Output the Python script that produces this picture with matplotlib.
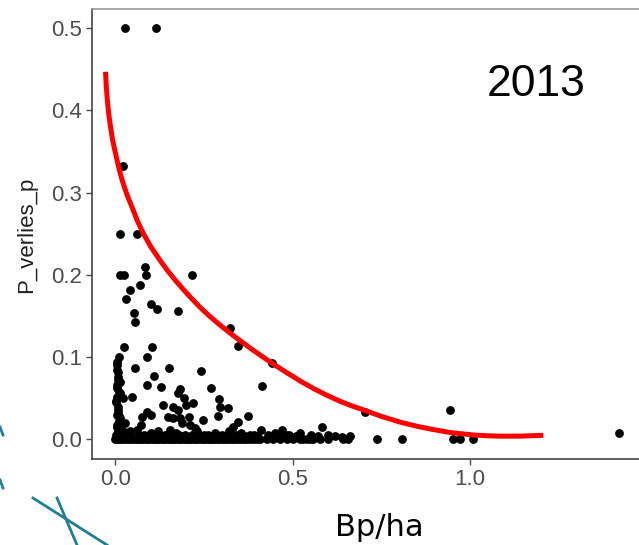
"""
Scatter of P_verlies_p vs Bp/ha (2013) with hand-drawn red envelope curve.
"""
import matplotlib
matplotlib.use('Agg')
import matplotlib.pyplot as plt
from matplotlib.lines import Line2D

# ---- data ----
# scattered points above the zero line
pts_x = [0.028, 0.115, 0.020, 0.014, 0.062, 0.082, 0.014, 0.023, 0.087, 0.217,
         0.070, 0.042, 0.031, 0.101, 0.118, 0.177, 0.051, 0.056, 0.324, 0.346,
         0.442, 0.023, 0.104, 0.011, 0.090, 0.054, 0.152, 0.242, 0.414, 0.006,
         0.008, 0.014, 0.110, 0.090, 0.127, 0.270, 0.183, 0.175, 0.014, 0.020,
         0.048, 0.192, 0.200, 0.220, 0.293, 0.296, 0.318, 0.290, 0.135, 0.163,
         0.175, 0.090, 0.099, 0.076, 0.073, 0.006, 0.014, 0.028, 0.149, 0.163,
         0.183, 0.206, 0.189, 0.211, 0.225, 0.248, 0.375, 0.346, 0.330, 0.583,
         0.470, 0.704, 0.944, 1.420, 0.003, 0.005, 0.002, 0.008, 0.004, 0.010,
         0.003, 0.006, 0.012, 0.002, 0.005, 0.018, 0.030, 0.040, 0.060, 0.065,
         0.100, 0.120, 0.140, 0.155, 0.170, 0.195, 0.230, 0.260, 0.280, 0.300,
         0.320, 0.355, 0.390, 0.410, 0.450, 0.480, 0.520, 0.550,
         0.004, 0.007, 0.003, 0.009, 0.005, 0.002, 0.006, 0.010, 0.004, 0.008,
         0.015, 0.020, 0.025, 0.035, 0.045, 0.080, 0.085, 0.095, 0.130, 0.145,
         0.160, 0.180, 0.200, 0.215, 0.240, 0.250, 0.265, 0.285, 0.310, 0.340,
         0.365, 0.380, 0.400, 0.430, 0.460, 0.490, 0.510, 0.570, 0.600, 0.620,
         0.640, 0.660]
pts_y = [0.500, 0.500, 0.333, 0.250, 0.250, 0.210, 0.200, 0.200, 0.200, 0.200,
         0.188, 0.182, 0.171, 0.165, 0.159, 0.156, 0.154, 0.143, 0.135, 0.114,
         0.093, 0.112, 0.112, 0.100, 0.100, 0.087, 0.087, 0.083, 0.065, 0.082,
         0.076, 0.070, 0.077, 0.066, 0.064, 0.062, 0.061, 0.056, 0.056, 0.050,
         0.052, 0.050, 0.042, 0.044, 0.049, 0.039, 0.038, 0.028, 0.042, 0.039,
         0.036, 0.033, 0.030, 0.027, 0.017, 0.032, 0.026, 0.020, 0.027, 0.026,
         0.026, 0.027, 0.020, 0.017, 0.014, 0.024, 0.028, 0.021, 0.015, 0.015,
         0.011, 0.033, 0.036, 0.008, 0.090, 0.062, 0.045, 0.040, 0.030, 0.022,
         0.015, 0.010, 0.008, 0.005, 0.094, 0.012, 0.008, 0.010, 0.012, 0.006,
         0.008, 0.010, 0.006, 0.012, 0.008, 0.006, 0.010, 0.006, 0.008, 0.006,
         0.010, 0.008, 0.006, 0.012, 0.008, 0.006, 0.008, 0.006,
         0.085, 0.072, 0.066, 0.058, 0.052, 0.047, 0.036, 0.028, 0.018, 0.004,
         0.004, 0.006, 0.004, 0.005, 0.004, 0.006, 0.004, 0.005, 0.004, 0.006,
         0.004, 0.005, 0.004, 0.006, 0.004, 0.005, 0.004, 0.006, 0.004, 0.005,
         0.004, 0.006, 0.004, 0.005, 0.004, 0.005, 0.004, 0.004, 0.005, 0.004,
         0.003, 0.004]

# points sitting on (or very near) zero
zero_x = [0.000, 0.006, 0.011, 0.017, 0.022, 0.029, 0.035, 0.041, 0.048, 0.054,
          0.060, 0.067, 0.073, 0.079, 0.086, 0.092, 0.098, 0.105, 0.111, 0.118,
          0.124, 0.131, 0.137, 0.143, 0.150, 0.156, 0.163, 0.169, 0.176, 0.182,
          0.188, 0.195, 0.201, 0.208, 0.214, 0.221, 0.227, 0.234, 0.240, 0.247,
          0.253, 0.260, 0.266, 0.273, 0.279, 0.286, 0.292, 0.299, 0.305, 0.312,
          0.318, 0.325, 0.332, 0.338, 0.345, 0.352, 0.359, 0.366, 0.373, 0.381,
          0.390, 0.398, 0.408, 0.428, 0.445, 0.465, 0.485, 0.501, 0.521, 0.530,
          0.541, 0.549, 0.558, 0.577, 0.600, 0.642, 0.656, 0.738, 0.808, 0.952,
          0.972, 1.008]
zero_y = [0.0] * len(zero_x)

# red curve
curve_x = [-0.028, -0.026, -0.023, -0.019, -0.014, -0.008, 0.000, 0.009, 0.019,
           0.032, 0.047, 0.062, 0.079, 0.100, 0.127, 0.149, 0.170, 0.190,
           0.211, 0.240, 0.265, 0.295, 0.324, 0.350, 0.380, 0.410, 0.442,
           0.480, 0.521, 0.558, 0.595, 0.630, 0.665, 0.699, 0.750, 0.803,
           0.850, 0.896, 0.950, 1.008, 1.045, 1.085, 1.140, 1.206]
curve_y = [0.447, 0.430, 0.413, 0.396, 0.380, 0.364, 0.348, 0.331, 0.315,
           0.298, 0.282, 0.2655, 0.250, 0.234, 0.217, 0.204, 0.193, 0.183,
           0.173, 0.160, 0.150, 0.139, 0.129, 0.1205, 0.111, 0.102, 0.0925,
           0.082, 0.071, 0.062, 0.054, 0.047, 0.041, 0.036, 0.028, 0.021,
           0.016, 0.012, 0.008, 0.0055, 0.0045, 0.004, 0.004, 0.005]

x_ticks = [0.0, 0.5, 1.0]
y_ticks = [0.0, 0.1, 0.2, 0.3, 0.4, 0.5]

fig = plt.figure(figsize=(6.39, 5.45), dpi=100)
ax = fig.add_axes([0.1435, 0.157, 0.8565, 0.826])

ax.scatter(pts_x + zero_x, pts_y + zero_y, s=40, color='black', linewidths=0, zorder=2)
ax.plot(curve_x, curve_y, color='#ff0000', linewidth=3.6, solid_capstyle='butt',
        solid_joinstyle='round', zorder=3)

ax.set_xlim(-0.067, 1.476)
ax.set_ylim(-0.0243, 0.523)
ax.set_xticks(x_ticks)
ax.set_xticklabels(['0.0', '0.5', '1.0'])
ax.set_yticks(y_ticks)
ax.set_yticklabels(['%.1f' % v for v in y_ticks])
ax.tick_params(colors='#4d4d4d', labelsize=16, length=4, width=1, pad=3)
for lab in ax.get_xticklabels() + ax.get_yticklabels():
    lab.set_fontfamily('Liberation Sans')

ax.spines['right'].set_visible(False)
ax.spines['left'].set_color('#444444')
ax.spines['bottom'].set_color('#444444')
ax.spines['top'].set_color('#999999')
for s in ['left', 'bottom', 'top']:
    ax.spines[s].set_linewidth(1.2)

ax.set_ylabel('P_verlies_p', fontsize=16, family='Liberation Sans', color='#222222', labelpad=10)

# slide text
fig.text(0.593, 0.033, 'Bp/ha', fontsize=22, family=['DejaVu Sans'],
         ha='center', va='center', color='black')
fig.text(0.839, 0.845, '2013', fontsize=32, family=['Liberation Sans'],
         ha='center', va='center', color='black')

# decorative teal strokes of the slide background, lower left
teal = '#1f7f96'
W, H = 639.0, 545.0
for (x0, y0, x1, y1) in [(33, 498, 107, 545), (57, 498, 77, 545),
                         (0, 427, 3, 435), (0, 480, 3, 488)]:
    fig.add_artist(Line2D([x0 / W, x1 / W], [1 - y0 / H, 1 - y1 / H],
                          transform=fig.transFigure, color=teal, linewidth=2))

fig.savefig('out.png', dpi=100)
